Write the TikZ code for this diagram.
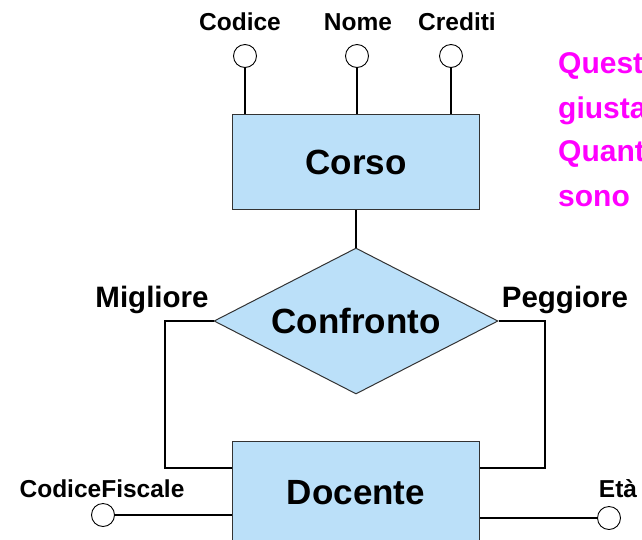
\documentclass[tikz,border=0pt]{standalone}
\usepackage{fontspec}
\setmainfont{Liberation Sans}
\usetikzlibrary{shapes.geometric}

\definecolor{erblue}{RGB}{187,224,249}
\definecolor{ermag}{RGB}{255,0,255}

\begin{document}
\begin{tikzpicture}[x=1pt,y=-1pt]

% stili
\tikzset{
  Ent/.style={rectangle, fill=erblue, draw=black!80, line width=1pt, minimum width=247pt, inner sep=0pt, font=\bfseries\fontsize{35}{40}\selectfont},
  Rel/.style={diamond, fill=erblue, draw=black!80, line width=1pt, aspect=1.95, minimum width=284pt, minimum height=146pt, inner sep=0pt, font=\bfseries\fontsize{35}{40}\selectfont},
  Att/.style={circle, fill=white, draw=black, line width=0.9pt, minimum size=23pt, inner sep=0pt},
  AttTxt/.style={anchor=base, inner sep=0pt, font=\bfseries\fontsize{24.5}{28}\selectfont},
  RoleTxt/.style={anchor=base, inner sep=0pt, font=\bfseries\fontsize{29.5}{34}\selectfont},
  Note/.style={anchor=base west, inner sep=0pt, text=ermag, font=\bfseries\fontsize{30}{34}\selectfont},
  Link/.style={line width=2.8pt}
}

\useasboundingbox (0,0) rectangle (642,539);

% ===== entita e relazione =====
\node[Ent, minimum height=95pt] (corso) at (356,162) {Corso};
\node[Rel] (conf) at (356,321) {Confronto};
\node[Ent, minimum height=104pt] (doc) at (356,493) {Docente};

% ===== attributi =====
\foreach \n/\x in {cod/245, nom/357, cre/451} {
  \node[Att] (a\n) at (\x,56) {};
  \draw[Link] (a\n.south) -- (a\n.south |- corso.north);
}
\node[AttTxt] (tcod) at (240,30) {Codice};
\node[AttTxt] (tnom) at (358,30) {Nome};
\node[AttTxt] (tcre) at (457,30) {Crediti};

\node[Att] (acf) at (103,515) {};
\node[Att] (aeta) at (609,518) {};
\draw[Link] (acf.east) -- (acf.east -| doc.west);
\draw[Link] (aeta.west) -- (aeta.west -| doc.east);
\node[AttTxt] (tcf) at (102,497) {CodiceFiscale};
\node[AttTxt] (teta) at (618,497) {Età};

% ===== collegamenti =====
\draw[Link] (corso.south) -- (conf.north);
\coordinate (mL) at (165,468);
\coordinate (pR) at (545,468);
\draw[Link] (conf.west) -| (mL) -- (mL -| doc.west);
\draw[Link] (conf.east) -| (pR) -- (pR -| doc.east);
\node[RoleTxt] (tmig) at (152,307) {Migliore};
\node[RoleTxt] (tpeg) at (565,307) {Peggiore};

% ===== nota =====
\node[Note] (n1) at (558,73) {Quest};
\node[Note] (n2) at (558,118) {giusta};
\node[Note] (n3) at (558,161) {Quant};
\node[Note] (n4) at (558,206) {sono};

\end{tikzpicture}
\end{document}
